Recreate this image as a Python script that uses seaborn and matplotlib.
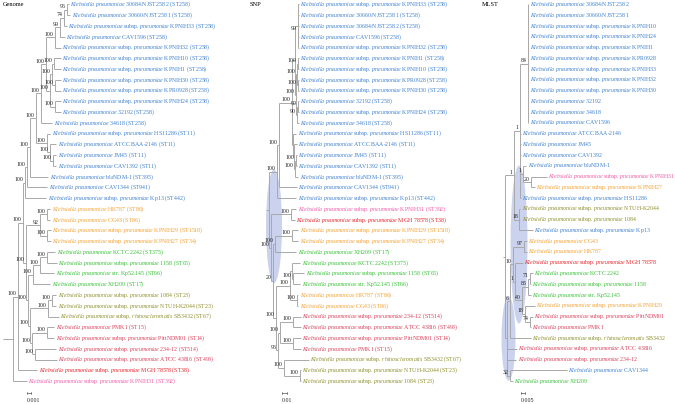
import matplotlib
matplotlib.use("Agg")
import matplotlib.pyplot as plt
import seaborn as sns
from matplotlib.collections import LineCollection
from matplotlib.patches import Ellipse

sns.set_theme(style="white")
plt.rcParams['font.family'] = ['Liberation Serif', 'DejaVu Serif']
plt.rcParams['mathtext.fontset'] = 'custom'
plt.rcParams['mathtext.rm'] = 'Liberation Serif'
plt.rcParams['mathtext.it'] = 'Liberation Serif:italic'

GROUP_COLORS = {
    "blue": "#3f80d0", "orange": "#f5a030", "green": "#35c035", "olive": "#8e8e2c",
    "crimson": "#d8405a", "red": "#e8232a", "pink": "#f05aa8",
}

# ---------------- Genome panel ----------------
GENOME_STRAINS = [
    "30684/NJST258 2", "30660/NJST258 1", "subsp. pneumoniae KPNIH33", "CAV1596",
    "subsp. pneumoniae KPNIH32", "subsp. pneumoniae KPNIH10", "subsp. pneumoniae KPNIH1",
    "subsp. pneumoniae KPNIH30", "subsp. pneumoniae KPR0928", "subsp. pneumoniae KPNIH24",
    "32192", "34618", "subsp. pneumoniae HS11286", "ATCC BAA-2146", "JM45", "CAV1392",
    "blaNDM-1", "CAV1344", "subsp. pneumoniae Kp13", "HK787", "CG43",
    "subsp. pneumoniae KPNIH29", "subsp. pneumoniae KPNIH27", "KCTC 2242",
    "subsp. pneumoniae 1158", "str. Kp52.145", "XH209", "subsp. pneumoniae 1084",
    "subsp. pneumoniae NTUH-K2044", "subsp. rhinoscleromatis SB3432", "PMK1",
    "subsp. pneumoniae PittNDM01", "subsp. pneumoniae 234-12", "subsp. pneumoniae ATCC 43816",
    "subsp. pneumoniae MGH 78578", "subsp. pneumoniae KPNIH31",
]
GENOME_ST = ["ST258"] * 12 + ["ST11"] * 4 + ["ST395", "ST941", "ST442", "ST86", "ST86",
             "ST1518", "ST34", "ST375", "ST65", "ST66", "ST17", "ST23", "ST23", "ST67",
             "ST15", "ST14", "ST514", "ST493", "ST38", "ST392"]
GENOME_GROUP = ["blue"] * 19 + ["orange"] * 4 + ["green"] * 4 + ["olive"] * 3 + \
               ["crimson"] * 4 + ["red", "pink"]
GENOME_TIP = [0.0140, 0.01425, 0.0135, 0.0130, 0.012, 0.012, 0.012, 0.012, 0.012, 0.012,
              0.012, 0.00975, 0.00925, 0.01075, 0.01075, 0.01075, 0.00875, 0.0085, 0.00825,
              0.00925, 0.00925, 0.0095, 0.0095, 0.0105, 0.011, 0.01025, 0.00925, 0.01075,
              0.01075, 0.0115, 0.01025, 0.01025, 0.01075, 0.011, 0.006, 0.0035]
GENOME_NODES = [
    ("A", (0, 1), 0.0135, "96"), ("B", ("A", 2), 0.01275, "74"), ("C", ("B", 3), 0.01175, "99"),
    ("D", ("C", 4), 0.0105, "100"), ("E", (5, 6), 0.01025, "100"), ("G", (7, 8), 0.0105, "100"),
    ("I", ("E", "G"), 0.00975, "100"), ("H", (9, 10), 0.0105, "100"),
    ("J", ("I", "H"), 0.00925, "100"), ("K", ("D", "J"), 0.00825, "100"),
    ("T", ("K", 11), 0.0070, "100"), ("M", (14, 15), 0.0100, "100"),
    ("N", (13, "M"), 0.00925, "100"), ("O", (12, "N"), 0.0085, "100"),
    ("Q", ("T", "O"), 0.00575, "100"), ("P", ("Q", 16), 0.00425, "100"),
    ("R", ("P", 17), 0.0035, "100"), ("S", ("R", 18), 0.0030, "100"),
    ("O1", (19, 20), 0.0085, "100"), ("O2", (21, 22), 0.0085, "100"),
    ("O3", ("O1", "O2"), 0.00675, "92"), ("G1", (23, 24), 0.0085, "100"),
    ("G2", ("G1", 25), 0.00675, "100"), ("G3", ("G2", 26), 0.0050, "100"),
    ("L1", (27, 28), 0.00975, "100"), ("L2", ("L1", 29), 0.00875, "100"),
    ("R1", (30, 31), 0.0085, "100"), ("R2", (32, 33), 0.0055, "100"),
    ("R3", ("R1", "R2"), 0.00475, "100"), ("LR", ("L2", "R3"), 0.00425, "100"),
    ("X1", ("G3", "LR"), 0.00375, "100"), ("LOW", ("O3", "X1"), 0.00325, "100"),
    ("U", ("S", "LOW"), 0.0025, "100"), ("V", ("U", 34), 0.00125, "100"),
    ("ROOT", ("V", 35), 0.0, ""),
]

# ---------------- SNP panel ----------------
SNP_STRAINS = [
    "subsp. pneumoniae KPNIH33", "30660/NJST258 1", "30684/NJST258 2", "CAV1596",
    "subsp. pneumoniae KPNIH32", "subsp. pneumoniae KPNIH1", "subsp. pneumoniae KPNIH10",
    "subsp. pneumoniae KPR0928", "subsp. pneumoniae KPNIH30", "32192",
    "subsp. pneumoniae KPNIH24", "34618", "subsp. pneumoniae HS11286", "ATCC BAA-2146",
    "JM45", "CAV1392", "blaNDM-1", "CAV1344", "subsp. pneumoniae Kp13",
    "subsp. pneumoniae KPNIH31", "subsp. pneumoniae MGH 78578", "subsp. pneumoniae KPNIH29",
    "subsp. pneumoniae KPNIH27", "XH209", "KCTC 2242", "subsp. pneumoniae 1158",
    "str. Kp52.145", "HK787", "CG43", "subsp. pneumoniae 234-12",
    "subsp. pneumoniae ATCC 43816", "subsp. pneumoniae PittNDM01", "PMK1",
    "subsp. rhinoscleromatis SB3432", "subsp. pneumoniae NTUH-K2044", "subsp. pneumoniae 1084",
]
SNP_ST = ["ST258"] * 12 + ["ST11"] * 4 + ["ST395", "ST941", "ST442", "ST392", "ST38",
          "ST1518", "ST34", "ST17", "ST375", "ST65", "ST66", "ST86", "ST86", "ST514",
          "ST493", "ST14", "ST15", "ST67", "ST23", "ST23"]
SNP_GROUP = ["blue"] * 19 + ["pink", "red", "orange", "orange"] + ["green"] * 4 + \
            ["orange", "orange"] + ["crimson"] * 4 + ["olive"] * 3
SNP_TIP = [0.066] * 12 + [0.060, 0.062, 0.062, 0.062, 0.064, 0.062, 0.060, 0.060, 0.058,
           0.064, 0.064, 0.060, 0.068, 0.076, 0.068, 0.064, 0.064, 0.070, 0.070, 0.070,
           0.070, 0.086, 0.070, 0.070]
SNP_NODES = [
    ("n1", (2, 3), 0.064, "99"), ("T1", (0, 1, "n1", 4), 0.063, ""),
    ("n2", (5, 6), 0.063, "100"), ("n3", (7, 8), 0.063, "100"),
    ("n4", ("n2", "n3"), 0.061, "100"), ("n6", (9, 10), 0.063, "99"),
    ("n7", ("n6", 11), 0.061, "90"), ("n9", ("n4", "n7"), 0.059, "100"),
    ("n10", ("T1", "n9"), 0.057, ""), ("m1", (14, 15), 0.060, "100"),
    ("m2", ("m1", 16), 0.058, "100"), ("m3", (13, "m2"), 0.056, ""),
    ("m4", (12, "m3"), 0.054, ""), ("U1", ("n10", "m4"), 0.052, "100"),
    ("V", ("U1", 17), 0.026, "100"), ("V2", ("V", 18), 0.022, "100"),
    ("p1", (19, 20), 0.050, "100"), ("p2", (21, 22), 0.052, "100"),
    ("p3", ("p2", 23), 0.018, "100"), ("g1", (25, 26), 0.054, "100"),
    ("g2", (24, "g1"), 0.052, ""), ("o1", (27, 28), 0.062, "100"),
    ("h", ("g2", "o1"), 0.048, "100"), ("r1", (29, 30), 0.054, "100"),
    ("r2", (31, 32), 0.054, "100"), ("r3", ("r1", "r2"), 0.028, "100"),
    ("ol1", (34, 35), 0.068, "100"), ("ol2", (33, "ol1"), 0.036, "100"),
    ("ro", ("r3", "ol2"), 0.024, "96"), ("hro", ("h", "ro"), 0.020, "100"),
    ("q20", ("p3", "hro"), 0.014, "20"), ("low", ("p1", "q20"), 0.010, "100"),
    ("ROOT", ("V2", "low"), 0.006, ""),
]

# ---------------- MLST panel ----------------
MLST_STRAINS = [
    "30684/NJST258 2", "30660/NJST258 1", "subsp. pneumoniae KPNIH10",
    "subsp. pneumoniae KPNIH24", "subsp. pneumoniae KPNIH1", "subsp. pneumoniae KPR0928",
    "subsp. pneumoniae KPNIH33", "subsp. pneumoniae KPNIH32", "subsp. pneumoniae KPNIH30",
    "32192", "34618", "CAV1596", "ATCC BAA-2146", "JM45", "CAV1392", "blaNDM-1",
    "subsp. pneumoniae KPNIH31", "subsp. pneumoniae KPNIH27", "subsp. pneumoniae HS11286",
    "subsp. pneumoniae NTUH-K2044", "subsp. pneumoniae 1084", "subsp. pneumoniae Kp13",
    "CG43", "HK787", "subsp. pneumoniae MGH 78578", "KCTC 2242", "subsp. pneumoniae 1158",
    "str. Kp52.145", "subsp. pneumoniae KPNIH29", "subsp. pneumoniae PittNDM01", "PMK1",
    "subsp. rhinoscleromatis SB3432", "subsp. pneumoniae ATCC 43816",
    "subsp. pneumoniae 234-12", "CAV1344", "XH209",
]
MLST_GROUP = ["blue"] * 16 + ["pink", "orange", "blue", "olive", "olive", "blue",
              "orange", "orange", "red", "green", "green", "green", "orange", "crimson",
              "crimson", "olive", "crimson", "crimson", "blue", "green"]
MLST_TIP = [0.02875] * 12 + [0.02, 0.02, 0.02, 0.02625, 0.0525, 0.0375, 0.02, 0.01875,
            0.01875, 0.035, 0.0275, 0.0275, 0.0225, 0.035, 0.0325, 0.0325, 0.0375, 0.035,
            0.0325, 0.0325, 0.015, 0.01375, 0.0775, 0.01]
MLST_NODES = [
    ("m0", tuple(range(12)), 0.02875, "84"), ("n17", (16, 17), 0.0325, "20"),
    ("n16", (15, "n17"), 0.0225, "1"), ("bM", ("m0", 12, 13, 14, "n16", 18), 0.01875, "1"),
    ("n20", (19, 20, 21), 0.018, "18"), ("a1", ("bM", "n20"), 0.01125, "1"),
    ("n23", (22, 23), 0.02375, "97"), ("g1", (25, 26), 0.03125, "71"),
    ("g2", ("g1", 27), 0.02875, "85"), ("r", (29, 30), 0.03125, "74"),
    ("n18", (28, "r"), 0.025, "18"), ("n40", ("g2", "n18"), 0.02125, "40"),
    ("a3", (24, "n40"), 0.0125, "1"), ("a2", ("n23", "a3"), 0.010, "10"),
    ("b6", ("a2", 31), 0.00625, "6"), ("c", (34, 35), 0.00625, "32"),
    ("rl", ("b6", 32, 33, "c"), 0.0025, ""), ("ROOT", ("a1", "rl"), 0.0, ""),
]

# ---------------- layout (pixels) ----------------
W, H = 675, 404
ROW0, ROW_PX = 4.5, 10.76
PANELS = [
    dict(title="Genome", left=0, root_px=13, per_px=0.00025, strains=GENOME_STRAINS,
         st=GENOME_ST, group=GENOME_GROUP, tip=GENOME_TIP, nodes=GENOME_NODES,
         stub_px=10, scale=0.001, scale_lab="0.001", scale_px=27, title_px=3,
         ellipses=[]),
    dict(title="SNP", left=225, root_px=266, per_px=0.002, strains=SNP_STRAINS,
         st=SNP_ST, group=SNP_GROUP, tip=SNP_TIP, nodes=SNP_NODES,
         stub_px=3, scale=0.01, scale_lab="0.01", scale_px=282, title_px=250,
         ellipses=[(("V2", "low", "q20"), 5, 0.2)]),
    dict(title="MLST", left=450, root_px=505, per_px=0.00125, strains=MLST_STRAINS,
         st=None, group=MLST_GROUP, tip=MLST_TIP, nodes=MLST_NODES,
         stub_px=2, scale=0.005, scale_lab="0.005", scale_px=521, title_px=482,
         ellipses=[(("a1", "n20", "a2", "a3", "n40", "n18"), 2.5, 0.9),
                   (("b6", "rl", "c"), 5.5, 0.45)]),
]

FS = 4.2


def fmt_label(strain, st):
    words = strain.split(" ")
    out = [r"$\mathit{Klebsiella\ pneumoniae}$"]
    for i, w in enumerate(words):
        if i > 0 and words[i - 1] == "subsp.":
            out.append(r"$\mathit{%s}$" % w)
        else:
            out.append(w)
    if st:
        out.append("(%s)" % st)
    return " ".join(out)


fig = plt.figure(figsize=(W / 100, H / 100), dpi=100)

for p in PANELS:
    ax = fig.add_axes([p["left"] / W, 0, 225 / W, 1])
    ax.axis("off")
    px = p["per_px"]
    ax.set_xlim((p["left"] - p["root_px"]) * px, (p["left"] + 225 - p["root_px"]) * px)
    ax.set_ylim((H - ROW0) / ROW_PX, -ROW0 / ROW_PX)

    n = len(p["strains"])
    xpos = {i: p["tip"][i] for i in range(n)}
    ypos = {i: float(i) for i in range(n)}
    segs = []
    for name, kids, depth, sup in p["nodes"]:
        ys = [ypos[k] for k in kids]
        ypos[name] = (min(ys) + max(ys)) / 2
        xpos[name] = depth
        segs.append([(depth, min(ys)), (depth, max(ys))])
        for k in kids:
            segs.append([(depth, ypos[k]), (xpos[k], ypos[k])])
    # root stub
    segs.append([(xpos["ROOT"] - p["stub_px"] * px, ypos["ROOT"]),
                 (xpos["ROOT"], ypos["ROOT"])])

    # highlight ellipses around weakly supported nodes
    for names, padx, pady in p["ellipses"]:
        xs = [xpos[k] for k in names]
        ys = [ypos[k] for k in names]
        cx, cy = (min(xs) + max(xs)) / 2, (min(ys) + max(ys)) / 2
        w = max(xs) - min(xs) + 2 * padx * px
        h = max(ys) - min(ys) + 2 * pady
        ax.add_patch(Ellipse((cx, cy), w, h, facecolor="#c2cbea", edgecolor="none",
                             alpha=0.85, zorder=1))

    ax.add_collection(LineCollection(segs, colors="#a8a8a8", linewidths=0.7, zorder=2))

    # bootstrap values
    for name, kids, depth, sup in p["nodes"]:
        if sup:
            ax.text(depth - 1.2 * px, ypos[name] - 0.28, sup, ha="right", va="center",
                    fontsize=FS, color="#222222", zorder=3)

    # leaf labels
    for i in range(n):
        st = p["st"][i] if p["st"] else None
        ax.text(p["tip"][i] + 1.5 * px, i, fmt_label(p["strains"][i], st), ha="left",
                va="center", fontsize=FS, color=GROUP_COLORS[p["group"][i]], zorder=3)

    # title
    ax.text((p["title_px"] - p["root_px"]) * px, (5 - ROW0) / ROW_PX, p["title"],
            ha="left", va="center", fontsize=4.6, color="black")

    # scale bar
    sx = (p["scale_px"] - p["root_px"]) * px
    sy = (393 - ROW0) / ROW_PX
    ax.plot([sx, sx + p["scale"]], [sy, sy], color="#555555", lw=0.5)
    ax.plot([sx, sx], [sy - 0.12, sy + 0.12], color="#555555", lw=0.5)
    ax.plot([sx + p["scale"], sx + p["scale"]], [sy - 0.12, sy + 0.12], color="#555555", lw=0.5)
    ax.text(sx, (400.5 - ROW0) / ROW_PX, p["scale_lab"], ha="left", va="center",
            fontsize=FS, color="#222222")

fig.savefig("out.png", dpi=100)
